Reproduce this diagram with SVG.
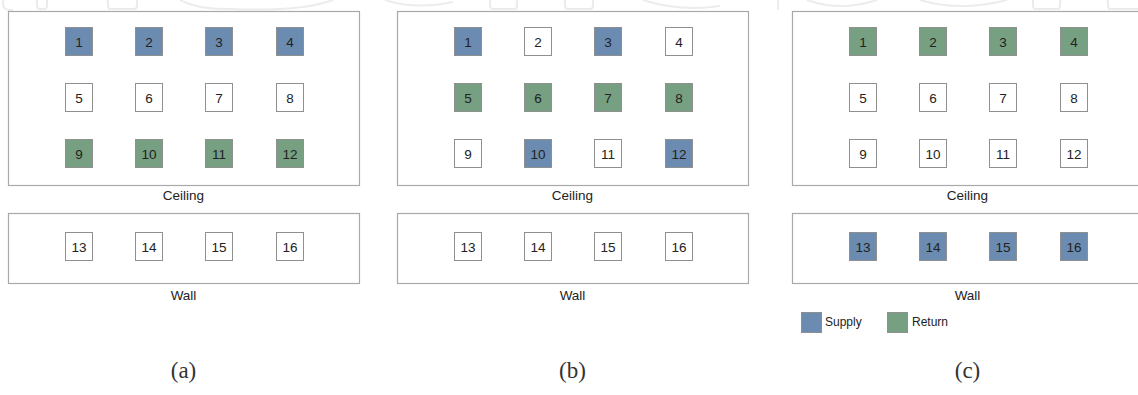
<svg xmlns="http://www.w3.org/2000/svg" width="1138" height="395" viewBox="0 0 1138 395">
<style>
.bg{fill:#ffffff}
.wm{fill:none;stroke:#ececec;stroke-width:2}
.frame{fill:#ffffff;stroke:#a9a9a9;stroke-width:1.2}
.cell{stroke:#8f8f8f;stroke-width:1}
.w{fill:#ffffff}
.s{fill:#6b8cb0}
.r{fill:#779f81}
.num{font-family:"Liberation Sans",Arial,sans-serif;font-size:13.5px;fill:#222222;text-anchor:middle}
.lbl{font-family:"Liberation Sans",Arial,sans-serif;font-size:13.5px;fill:#222222;text-anchor:middle}
.leg{font-family:"Liberation Sans",Arial,sans-serif;font-size:12px;fill:#222222}
.cap{font-family:"Liberation Serif","Times New Roman",serif;font-size:23px;fill:#333333;text-anchor:middle}
</style>
<defs>
<g id="panelFrame">
<rect class="frame" x="8.5" y="11.5" width="351" height="174"/>
<text class="lbl" x="183.5" y="200">Ceiling</text>
<rect class="frame" x="8.5" y="213.5" width="351" height="70"/>
<text class="lbl" x="183.5" y="300">Wall</text>
</g>
</defs>
<rect class="bg" x="0" y="0" width="1138" height="395"/>
<g id="watermark">
<path class="wm" d="M3,0 V4 Q3,10 10,10 H13"/>
<path class="wm" d="M37,0 V6 Q37,9 40,9 H44 Q47,9 47,6 V0"/>
<path class="wm" d="M108,0 V6 Q108,9 111,9 H134 Q137,9 137,6 V0"/>
<path class="wm" d="M180,0 Q200,10 230,9 Q300,12 333,0"/>
<path class="wm" d="M385,0 Q415,10 453,2"/>
<path class="wm" d="M490,0 V6 Q490,9 493,9 H514 Q517,9 517,6 V0"/>
<path class="wm" d="M565,0 V6 Q565,9 568,9 H590 Q593,9 593,6 V0"/>
<path class="wm" d="M643,0 Q680,12 720,6"/>
<path class="wm" d="M778,0 V10"/>
<path class="wm" d="M807,0 Q840,12 877,0"/>
<path class="wm" d="M920,0 Q960,12 1007,0"/>
<path class="wm" d="M1033,0 V6 Q1033,9 1036,9 H1057 Q1060,9 1060,6 V0"/>
<path class="wm" d="M1108,0 V6 Q1108,9 1111,9 H1138"/>
</g>
<g id="panel-a">
<use href="#panelFrame"/>
<g id="a-1"><rect class="cell s" x="65.5" y="27.5" width="27" height="28"/><text class="num" x="79" y="46.5">1</text></g>
<g id="a-2"><rect class="cell s" x="135.5" y="27.5" width="27" height="28"/><text class="num" x="149" y="46.5">2</text></g>
<g id="a-3"><rect class="cell s" x="205.5" y="27.5" width="27" height="28"/><text class="num" x="219" y="46.5">3</text></g>
<g id="a-4"><rect class="cell s" x="276.5" y="27.5" width="27" height="28"/><text class="num" x="290" y="46.5">4</text></g>
<g id="a-5"><rect class="cell w" x="65.5" y="83.5" width="27" height="28"/><text class="num" x="79" y="102.5">5</text></g>
<g id="a-6"><rect class="cell w" x="135.5" y="83.5" width="27" height="28"/><text class="num" x="149" y="102.5">6</text></g>
<g id="a-7"><rect class="cell w" x="205.5" y="83.5" width="27" height="28"/><text class="num" x="219" y="102.5">7</text></g>
<g id="a-8"><rect class="cell w" x="276.5" y="83.5" width="27" height="28"/><text class="num" x="290" y="102.5">8</text></g>
<g id="a-9"><rect class="cell r" x="65.5" y="139.5" width="27" height="28"/><text class="num" x="79" y="158.5">9</text></g>
<g id="a-10"><rect class="cell r" x="135.5" y="139.5" width="27" height="28"/><text class="num" x="149" y="158.5">10</text></g>
<g id="a-11"><rect class="cell r" x="205.5" y="139.5" width="27" height="28"/><text class="num" x="219" y="158.5">11</text></g>
<g id="a-12"><rect class="cell r" x="276.5" y="139.5" width="27" height="28"/><text class="num" x="290" y="158.5">12</text></g>
<g id="a-13"><rect class="cell w" x="65.5" y="232.5" width="27" height="28"/><text class="num" x="79" y="251.5">13</text></g>
<g id="a-14"><rect class="cell w" x="135.5" y="232.5" width="27" height="28"/><text class="num" x="149" y="251.5">14</text></g>
<g id="a-15"><rect class="cell w" x="205.5" y="232.5" width="27" height="28"/><text class="num" x="219" y="251.5">15</text></g>
<g id="a-16"><rect class="cell w" x="276.5" y="232.5" width="27" height="28"/><text class="num" x="290" y="251.5">16</text></g>
<text class="cap" x="183.5" y="378">(a)</text>
</g>
<g id="panel-b" transform="translate(389,0)">
<use href="#panelFrame"/>
<g id="b-1"><rect class="cell s" x="65.5" y="27.5" width="27" height="28"/><text class="num" x="79" y="46.5">1</text></g>
<g id="b-2"><rect class="cell w" x="135.5" y="27.5" width="27" height="28"/><text class="num" x="149" y="46.5">2</text></g>
<g id="b-3"><rect class="cell s" x="205.5" y="27.5" width="27" height="28"/><text class="num" x="219" y="46.5">3</text></g>
<g id="b-4"><rect class="cell w" x="276.5" y="27.5" width="27" height="28"/><text class="num" x="290" y="46.5">4</text></g>
<g id="b-5"><rect class="cell r" x="65.5" y="83.5" width="27" height="28"/><text class="num" x="79" y="102.5">5</text></g>
<g id="b-6"><rect class="cell r" x="135.5" y="83.5" width="27" height="28"/><text class="num" x="149" y="102.5">6</text></g>
<g id="b-7"><rect class="cell r" x="205.5" y="83.5" width="27" height="28"/><text class="num" x="219" y="102.5">7</text></g>
<g id="b-8"><rect class="cell r" x="276.5" y="83.5" width="27" height="28"/><text class="num" x="290" y="102.5">8</text></g>
<g id="b-9"><rect class="cell w" x="65.5" y="139.5" width="27" height="28"/><text class="num" x="79" y="158.5">9</text></g>
<g id="b-10"><rect class="cell s" x="135.5" y="139.5" width="27" height="28"/><text class="num" x="149" y="158.5">10</text></g>
<g id="b-11"><rect class="cell w" x="205.5" y="139.5" width="27" height="28"/><text class="num" x="219" y="158.5">11</text></g>
<g id="b-12"><rect class="cell s" x="276.5" y="139.5" width="27" height="28"/><text class="num" x="290" y="158.5">12</text></g>
<g id="b-13"><rect class="cell w" x="65.5" y="232.5" width="27" height="28"/><text class="num" x="79" y="251.5">13</text></g>
<g id="b-14"><rect class="cell w" x="135.5" y="232.5" width="27" height="28"/><text class="num" x="149" y="251.5">14</text></g>
<g id="b-15"><rect class="cell w" x="205.5" y="232.5" width="27" height="28"/><text class="num" x="219" y="251.5">15</text></g>
<g id="b-16"><rect class="cell w" x="276.5" y="232.5" width="27" height="28"/><text class="num" x="290" y="251.5">16</text></g>
<text class="cap" x="183.5" y="378">(b)</text>
</g>
<g id="panel-c" transform="translate(784,0)">
<use href="#panelFrame"/>
<g id="c-1"><rect class="cell r" x="65.5" y="27.5" width="27" height="28"/><text class="num" x="79" y="46.5">1</text></g>
<g id="c-2"><rect class="cell r" x="135.5" y="27.5" width="27" height="28"/><text class="num" x="149" y="46.5">2</text></g>
<g id="c-3"><rect class="cell r" x="205.5" y="27.5" width="27" height="28"/><text class="num" x="219" y="46.5">3</text></g>
<g id="c-4"><rect class="cell r" x="276.5" y="27.5" width="27" height="28"/><text class="num" x="290" y="46.5">4</text></g>
<g id="c-5"><rect class="cell w" x="65.5" y="83.5" width="27" height="28"/><text class="num" x="79" y="102.5">5</text></g>
<g id="c-6"><rect class="cell w" x="135.5" y="83.5" width="27" height="28"/><text class="num" x="149" y="102.5">6</text></g>
<g id="c-7"><rect class="cell w" x="205.5" y="83.5" width="27" height="28"/><text class="num" x="219" y="102.5">7</text></g>
<g id="c-8"><rect class="cell w" x="276.5" y="83.5" width="27" height="28"/><text class="num" x="290" y="102.5">8</text></g>
<g id="c-9"><rect class="cell w" x="65.5" y="139.5" width="27" height="28"/><text class="num" x="79" y="158.5">9</text></g>
<g id="c-10"><rect class="cell w" x="135.5" y="139.5" width="27" height="28"/><text class="num" x="149" y="158.5">10</text></g>
<g id="c-11"><rect class="cell w" x="205.5" y="139.5" width="27" height="28"/><text class="num" x="219" y="158.5">11</text></g>
<g id="c-12"><rect class="cell w" x="276.5" y="139.5" width="27" height="28"/><text class="num" x="290" y="158.5">12</text></g>
<g id="c-13"><rect class="cell s" x="65.5" y="232.5" width="27" height="28"/><text class="num" x="79" y="251.5">13</text></g>
<g id="c-14"><rect class="cell s" x="135.5" y="232.5" width="27" height="28"/><text class="num" x="149" y="251.5">14</text></g>
<g id="c-15"><rect class="cell s" x="205.5" y="232.5" width="27" height="28"/><text class="num" x="219" y="251.5">15</text></g>
<g id="c-16"><rect class="cell s" x="276.5" y="232.5" width="27" height="28"/><text class="num" x="290" y="251.5">16</text></g>
<g id="legend">
<rect class="cell s" x="17.5" y="312.5" width="20" height="20"/>
<text class="leg" x="41" y="326">Supply</text>
<rect class="cell r" x="103.5" y="312.5" width="20" height="20"/>
<text class="leg" x="128" y="326">Return</text>
</g>
<text class="cap" x="183.5" y="378">(c)</text>
</g>
<g id="connectors"/>
</svg>
